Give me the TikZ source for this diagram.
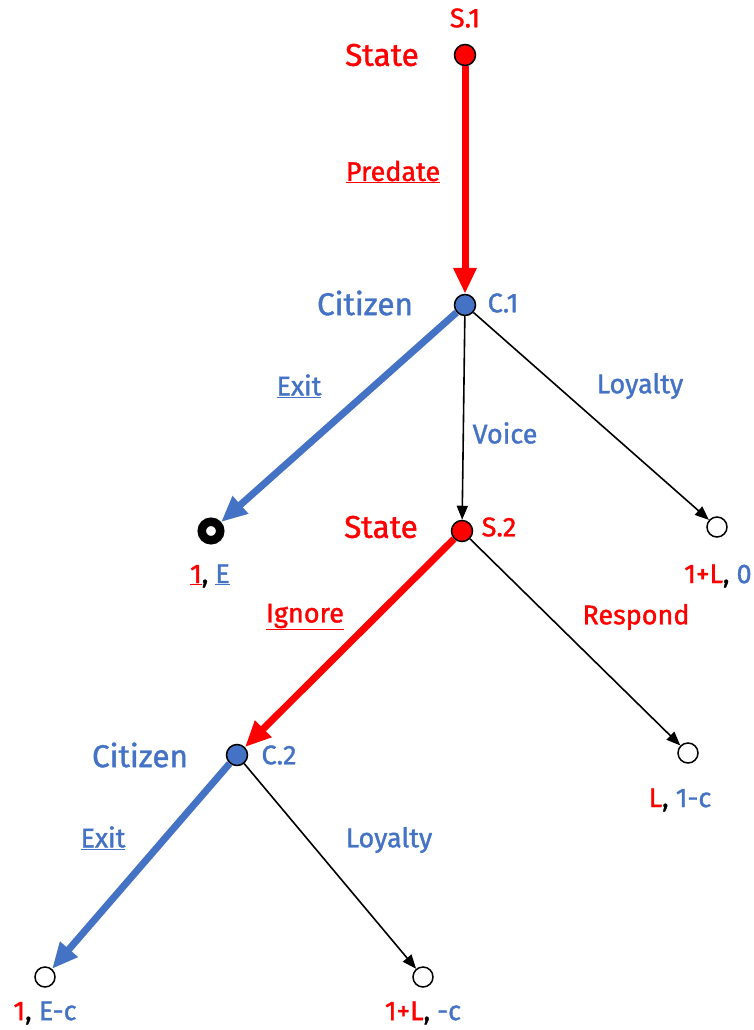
\documentclass[tikz,border=0pt]{standalone}
\usepackage{fontspec}
\setmainfont{Fira Sans}[FakeBold=1.3]
\usetikzlibrary{arrows.meta}
\definecolor{tred}{HTML}{FF0000}
\definecolor{tblue}{HTML}{4472C4}
\tikzset{
  dec/.style={circle,draw=black,line width=1.5pt,inner sep=0pt,minimum size=21pt},
  sdec/.style={dec,fill=tred},
  cdec/.style={dec,fill=tblue},
  term/.style={circle,draw=black,line width=1.5pt,fill=white,inner sep=0pt,minimum size=20pt},
  ring/.style={circle,draw=black,line width=8.5pt,inner sep=0pt,minimum size=18.5pt},
  thickred/.style={draw=tred,line width=7pt,-{Triangle[length=26pt,width=22pt]}},
  thickblue/.style={draw=tblue,line width=7pt,-{Triangle[length=26pt,width=22pt]}},
  thin/.style={draw=black,line width=1.6pt,-{Triangle[length=14pt,width=11pt]}},
  player/.style={font=\fontsize{31.5}{36}\selectfont,inner sep=0pt},
  tag/.style={font=\fontsize{27}{31}\selectfont,inner sep=0pt},
  act/.style={font=\fontsize{27}{31}\selectfont,inner sep=0pt},
  pay/.style={font=\fontsize{27}{31}\selectfont,inner sep=0pt},
}
\newcommand{\rd}[1]{\textcolor{tred}{#1}}
\newcommand{\bl}[1]{\textcolor{tblue}{#1}}
\begin{document}
\begin{tikzpicture}[x=1pt,y=-1pt]
\useasboundingbox (0,0) rectangle (753,1030);
% decision nodes
\node[sdec] (s1) at (465,55) {};
\node[cdec] (c1) at (465,305) {};
\node[sdec] (s2) at (462,531) {};
\node[cdec] (c2) at (237,755) {};
% terminals
\node[ring] (e1) at (211,531) {};
\node[term] (l1) at (717,527) {};
\node[term] (r2) at (688,753) {};
\node[term] (e2) at (45,977) {};
\node[term] (l2) at (423,977) {};
% edges
\draw[thickred] (s1) -- (c1);
\draw[thickblue] (c1) -- (e1);
\draw[thin] (c1) -- (s2);
\draw[thin] (c1) -- (l1);
\draw[thickred] (s2) -- (c2);
\draw[thin] (s2) -- (r2);
\draw[thickblue] (c2) -- (e2);
\draw[thin] (c2) -- (l2);
% player labels
\node[tag,text=tred] (s1t) at (465,18) {S.1};
\node[player,text=tred] (s1p) at (382,55) {State};
\node[player,text=tblue] (c1p) at (365,303) {Citizen};
\node[tag,text=tblue] (c1t) at (503,303) {C.1};
\node[player,text=tred] (s2p) at (381,527) {State};
\node[tag,text=tred] (s2t) at (499,527) {S.2};
\node[player,text=tblue] (c2p) at (140,755) {Citizen};
\node[tag,text=tblue] (c2t) at (279,755) {C.2};
% action labels
\node[act,text=tred] (pred) at (393,172) {\underline{Predate}};
\node[act,text=tblue] (ex1) at (299,386) {\underline{Exit}};
\node[act,text=tblue] (voi) at (505,433) {Voice};
\node[act,text=tblue] (loy1) at (640,386) {Loyalty};
\node[act,text=tred] (ign) at (305,617) {\underline{Ignore}};
\node[act,text=tred] (resp) at (636,617) {Respond};
\node[act,text=tblue] (ex2) at (103,838) {\underline{Exit}};
\node[act,text=tblue] (loy2) at (389,840) {Loyalty};
% payoffs
\node[pay] (p1) at (210,576) {\rd{\underline{1}}, \bl{\underline{E}}};
\node[pay] (p2) at (718,576) {\rd{1+L}, \bl{0}};
\node[pay] (p3) at (680,800) {\rd{L}, \bl{1-c}};
\node[pay] (p4) at (45,1013) {\rd{1}, \bl{E-c}};
\node[pay] (p5) at (423,1013) {\rd{1+L}, \bl{-c}};
\end{tikzpicture}
\end{document}
